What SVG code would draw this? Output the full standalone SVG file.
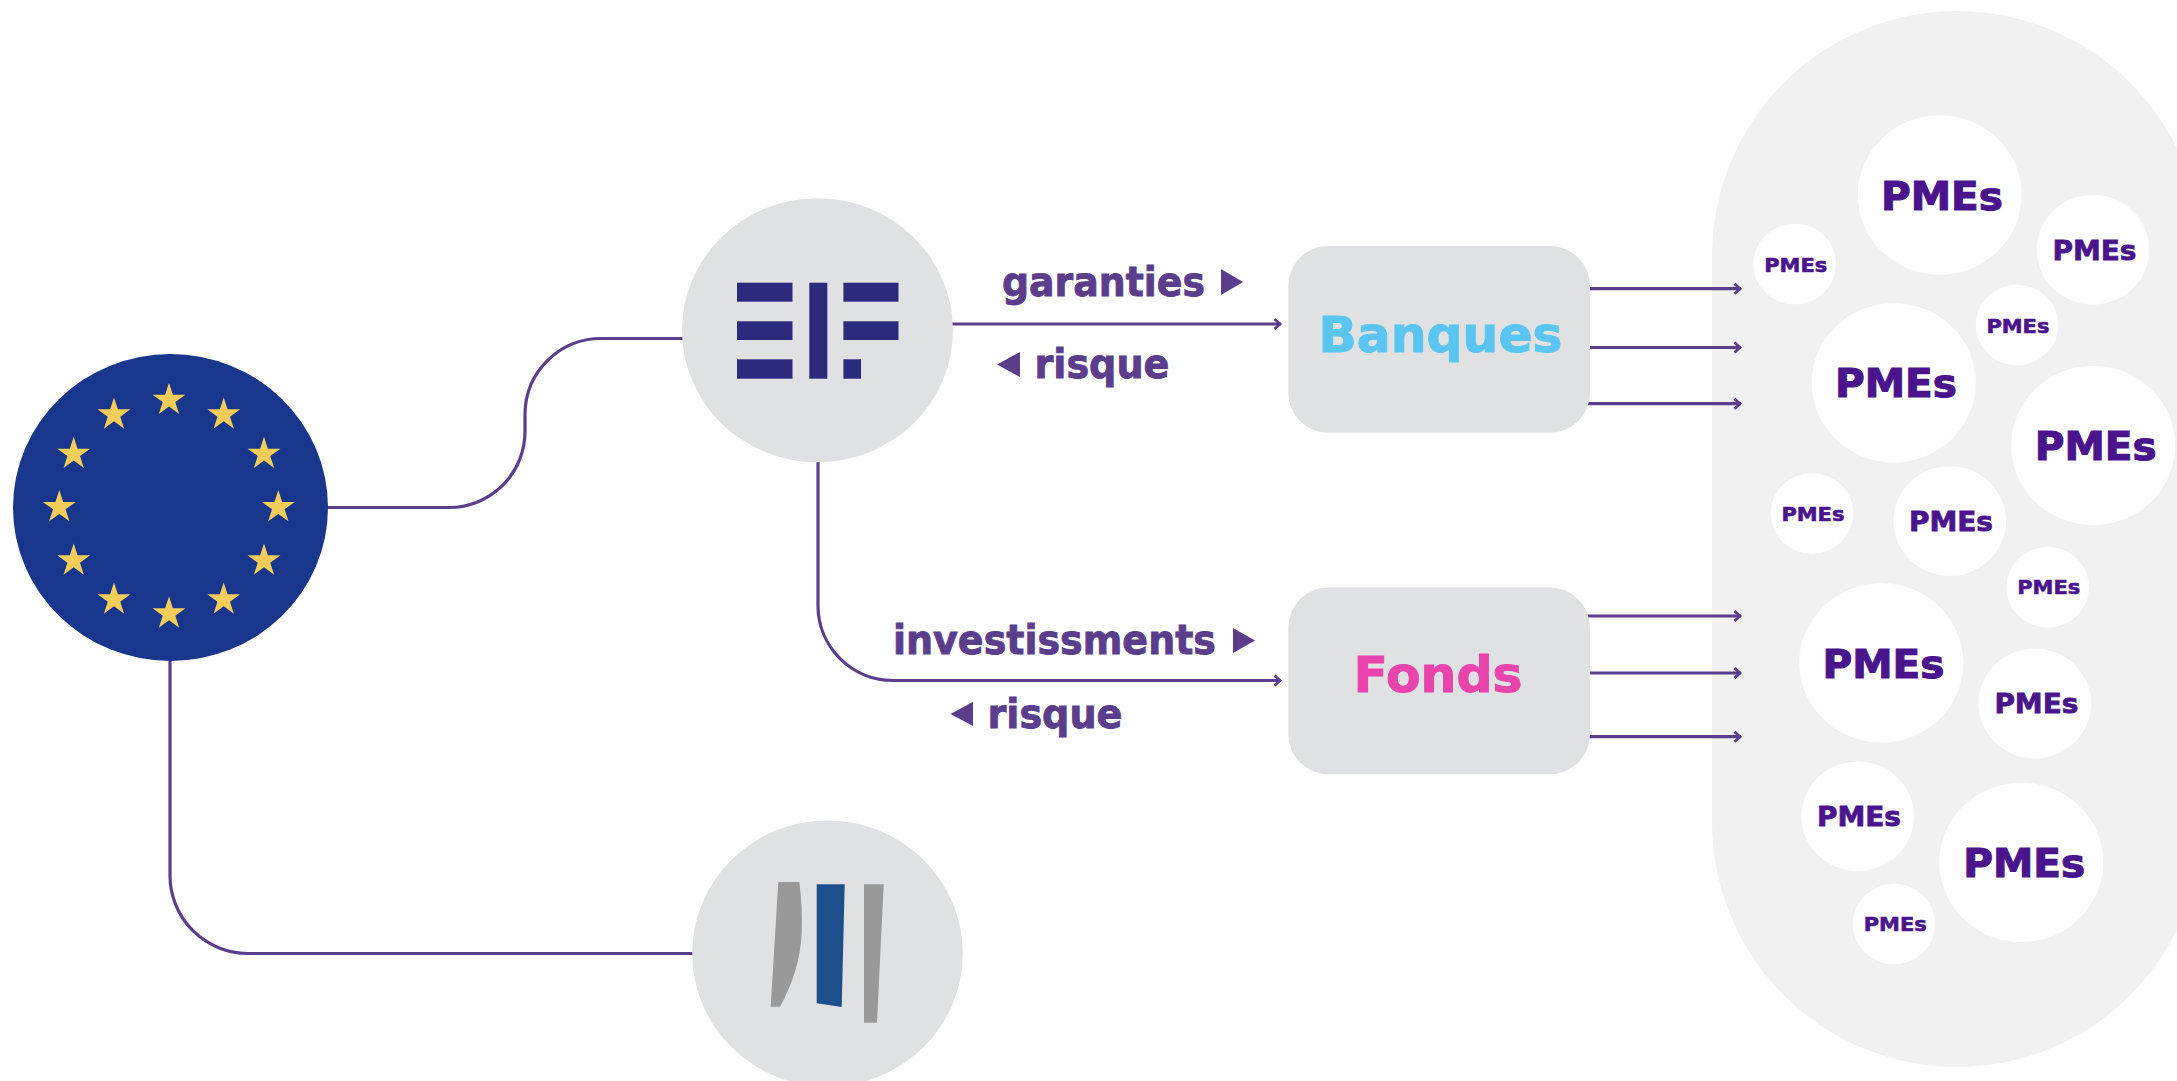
<svg xmlns="http://www.w3.org/2000/svg" xmlns:xlink="http://www.w3.org/1999/xlink" width="2177" height="1081" viewBox="0 0 2177 1081">
<style>
.bg{fill:#ffffff}
.panel{fill:#f1f1f1}
.node{fill:#e0e1e3}
.sme{fill:#ffffff}
.link{fill:none;stroke:#5a3e8c;stroke-width:3.2}
.tip{marker-end:url(#chev)}
.star{fill:#f3cd5a}
.elf{fill:#2c2a7c}
.tri{fill:#5a3e8c}
text{font-family:"DejaVu Sans","Liberation Sans",sans-serif;font-weight:bold}
.lab{fill:#5a3e8c;stroke:#5a3e8c;stroke-width:.9px;font-size:41px}
.pme{fill:#4a148c;stroke:#4a148c}
.b{font-size:39px;stroke-width:1.1px}
.m{font-size:27px;stroke-width:.8px}
.s{font-size:20px;stroke-width:.6px}
.hd{font-size:49px;stroke-width:1px}
</style>
<defs>
<marker id="chev" markerUnits="userSpaceOnUse" markerWidth="14" markerHeight="14" refX="11" refY="7" orient="auto">
<path d="M4.5,2 L10,7 L4.5,12" fill="none" stroke="#5a3e8c" stroke-width="2.8"/>
</marker>
<path id="st" class="star" d="M0,-17.3 L3.88,-5.35 L16.45,-5.35 L6.28,2.04 L10.17,14 L0,6.6 L-10.17,14 L-6.28,2.04 L-16.45,-5.35 L-3.88,-5.35 Z"/>
</defs>
<rect class="bg" width="2177" height="1081"/>
<g id="sme-panel"><rect class="panel" x="1712" y="11" width="490" height="1056" rx="245" ry="245"/></g>
<g id="connectors">
<path class="link" d="M325,507.5 H448 A76,76 0 0 0 525,431 V414 A76,76 0 0 1 601,338.5 H685"/>
<path class="link" d="M170,655 V875 A78,78 0 0 0 248,953.5 H695"/>
<path class="link tip" d="M950,324 H1281"/>
<path class="link tip" d="M818,460 V605 A75,75 0 0 0 893,680.5 H1281"/>
<path class="link tip" d="M1585,288.7 H1741"/>
<path class="link tip" d="M1585,347.5 H1741"/>
<path class="link tip" d="M1580,403.7 H1741"/>
<path class="link tip" d="M1585,616 H1741"/>
<path class="link tip" d="M1585,673 H1741"/>
<path class="link tip" d="M1580,736.7 H1741"/>
</g>
<g id="eu">
<ellipse cx="170.5" cy="507.5" rx="157.5" ry="153.5" fill="#18378c"/>
<use xlink:href="#st" href="#st" x="169" y="400"/>
<use xlink:href="#st" href="#st" x="223.7" y="414.7"/>
<use xlink:href="#st" href="#st" x="264" y="454"/>
<use xlink:href="#st" href="#st" x="278.3" y="507.3"/>
<use xlink:href="#st" href="#st" x="264" y="560.7"/>
<use xlink:href="#st" href="#st" x="223.7" y="599.7"/>
<use xlink:href="#st" href="#st" x="169" y="613.7"/>
<use xlink:href="#st" href="#st" x="114" y="599.7"/>
<use xlink:href="#st" href="#st" x="73.7" y="560.7"/>
<use xlink:href="#st" href="#st" x="59.3" y="507.3"/>
<use xlink:href="#st" href="#st" x="73.7" y="454"/>
<use xlink:href="#st" href="#st" x="114" y="414.7"/>
</g>
<g id="eif">
<ellipse class="node" cx="817.5" cy="330.3" rx="135.5" ry="132"/>
<rect class="elf" x="737" y="282.7" width="55.5" height="19"/>
<rect class="elf" x="737" y="321.3" width="55.5" height="18.7"/>
<rect class="elf" x="737" y="359.3" width="55.5" height="19.4"/>
<rect class="elf" x="809.3" y="282.7" width="18" height="96"/>
<rect class="elf" x="843.4" y="282.7" width="55.1" height="19"/>
<rect class="elf" x="843.4" y="321.3" width="55.1" height="18.7"/>
<rect class="elf" x="843.4" y="359.3" width="17.6" height="19.4"/>
</g>
<g id="eib">
<ellipse class="node" cx="827.5" cy="953.5" rx="135.3" ry="133"/>
<path fill="#999999" d="M778.3,882 H799.3 C801.5,898 802.2,915 801.7,933 C800.5,960 792,985 780,1006.7 H770.7 Z"/>
<path fill="#1d4f8c" d="M816.7,884.3 H844.7 L841.7,1007 L816.7,1003.3 Z"/>
<path fill="#999999" d="M864,884.3 H883.7 L877,1022.7 H864 Z"/>
</g>
<g id="banques">
<rect class="node" x="1288.3" y="246" width="301.7" height="186.7" rx="40" ry="40"/>
<text class="hd" x="1318.5" y="351.5" fill="#5bc5f2" stroke="#5bc5f2" textLength="244" lengthAdjust="spacingAndGlyphs">Banques</text>
</g>
<g id="fonds">
<rect class="node" x="1288.3" y="587.5" width="301.7" height="186.8" rx="40" ry="40"/>
<text class="hd" x="1353.5" y="692" fill="#e844ac" stroke="#e844ac" textLength="169" lengthAdjust="spacingAndGlyphs">Fonds</text>
</g>
<g id="label-garanties">
<text class="lab" x="1002" y="295.5" textLength="203" lengthAdjust="spacingAndGlyphs">garanties</text>
<polygon class="tri" points="1221,269 1243,282 1221,295"/>
</g>
<g id="label-risque-1">
<polygon class="tri" points="1020,352 997,364.5 1020,377"/>
<text class="lab" x="1034.5" y="378" textLength="135" lengthAdjust="spacingAndGlyphs">risque</text>
</g>
<g id="label-investissments">
<text class="lab" x="893" y="653.5" textLength="323" lengthAdjust="spacingAndGlyphs">investissments</text>
<polygon class="tri" points="1233,628 1255,640.5 1233,653"/>
</g>
<g id="label-risque-2">
<polygon class="tri" points="973,701.7 950.6,714 973,726"/>
<text class="lab" x="987.5" y="727.5" textLength="135" lengthAdjust="spacingAndGlyphs">risque</text>
</g>
<g id="sme-1"><ellipse class="sme" cx="1939.7" cy="195" rx="82" ry="79.7"/><text class="pme b" x="1942" y="209.5" text-anchor="middle" textLength="122" lengthAdjust="spacingAndGlyphs">PMEs</text></g>
<g id="sme-2"><ellipse class="sme" cx="2093" cy="249.7" rx="56.3" ry="54.8"/><text class="pme m" x="2094.5" y="259.8" text-anchor="middle" textLength="84" lengthAdjust="spacingAndGlyphs">PMEs</text></g>
<g id="sme-3"><ellipse class="sme" cx="1794.7" cy="264" rx="41.3" ry="40.3"/><text class="pme s" x="1795.7" y="271.8" text-anchor="middle" textLength="63" lengthAdjust="spacingAndGlyphs">PMEs</text></g>
<g id="sme-4"><ellipse class="sme" cx="2017" cy="325" rx="41.3" ry="40.3"/><text class="pme s" x="2017.9" y="332.7" text-anchor="middle" textLength="63" lengthAdjust="spacingAndGlyphs">PMEs</text></g>
<g id="sme-5"><ellipse class="sme" cx="1893.7" cy="382.8" rx="82" ry="79.7"/><text class="pme b" x="1896" y="397.2" text-anchor="middle" textLength="122" lengthAdjust="spacingAndGlyphs">PMEs</text></g>
<g id="sme-6"><ellipse class="sme" cx="2093.2" cy="445.4" rx="82" ry="79.7"/><text class="pme b" x="2095.7" y="460.2" text-anchor="middle" textLength="122" lengthAdjust="spacingAndGlyphs">PMEs</text></g>
<g id="sme-7"><ellipse class="sme" cx="1812" cy="513.5" rx="41.3" ry="40.3"/><text class="pme s" x="1812.9" y="521.1" text-anchor="middle" textLength="63" lengthAdjust="spacingAndGlyphs">PMEs</text></g>
<g id="sme-8"><ellipse class="sme" cx="1949.7" cy="521" rx="56.3" ry="54.8"/><text class="pme m" x="1951" y="530.8" text-anchor="middle" textLength="84" lengthAdjust="spacingAndGlyphs">PMEs</text></g>
<g id="sme-9"><ellipse class="sme" cx="2047.7" cy="587.3" rx="41.3" ry="40.3"/><text class="pme s" x="2048.7" y="594.4" text-anchor="middle" textLength="63" lengthAdjust="spacingAndGlyphs">PMEs</text></g>
<g id="sme-10"><ellipse class="sme" cx="1881.3" cy="662.8" rx="82" ry="79.7"/><text class="pme b" x="1883.5" y="677.5" text-anchor="middle" textLength="122" lengthAdjust="spacingAndGlyphs">PMEs</text></g>
<g id="sme-11"><ellipse class="sme" cx="2034.8" cy="703.5" rx="56.3" ry="54.8"/><text class="pme m" x="2036.4" y="713.3" text-anchor="middle" textLength="84" lengthAdjust="spacingAndGlyphs">PMEs</text></g>
<g id="sme-12"><ellipse class="sme" cx="1857.7" cy="816.2" rx="56.3" ry="54.8"/><text class="pme m" x="1859" y="826.4" text-anchor="middle" textLength="84" lengthAdjust="spacingAndGlyphs">PMEs</text></g>
<g id="sme-13"><ellipse class="sme" cx="2021.3" cy="862.3" rx="82" ry="79.7"/><text class="pme b" x="2024.2" y="876.5" text-anchor="middle" textLength="122" lengthAdjust="spacingAndGlyphs">PMEs</text></g>
<g id="sme-14"><ellipse class="sme" cx="1894" cy="924" rx="41.3" ry="40.3"/><text class="pme s" x="1895.2" y="931.4" text-anchor="middle" textLength="63" lengthAdjust="spacingAndGlyphs">PMEs</text></g>
</svg>
